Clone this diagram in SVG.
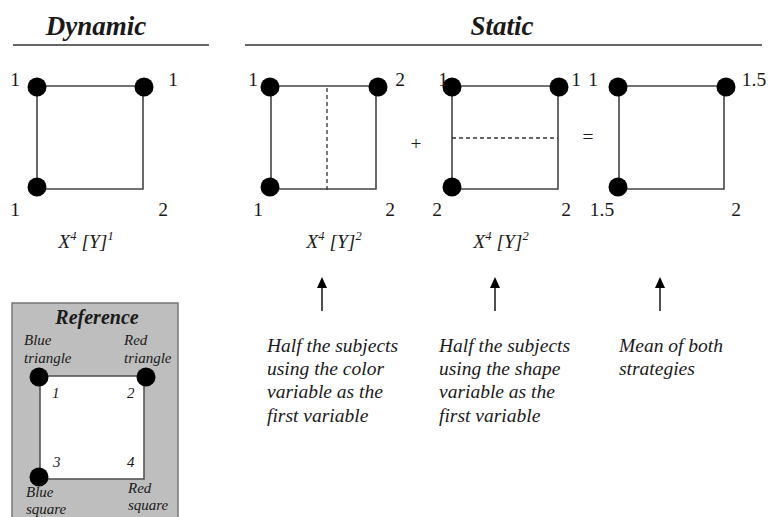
<svg xmlns="http://www.w3.org/2000/svg" width="768" height="517" viewBox="0 0 768 517">
<style>
text{font-family:"Liberation Serif","DejaVu Serif","Noto Serif",serif;fill:#1a1a1a}
.title{font-size:27px;font-weight:bold;font-style:italic}
.num{font-size:19.5px}
.it{font-style:italic;font-size:19.5px}
.sup{font-size:12.5px}
.ref{font-style:italic;font-size:15px}
.sq{fill:none;stroke:#444;stroke-width:1.6}
.dash{stroke:#333;stroke-width:1.3;stroke-dasharray:4 3;fill:none}
.dot{fill:#000}
.rule{stroke:#333;stroke-width:1.5}
.arrow{stroke:#222;stroke-width:1.6;fill:none}
</style>
<defs>
<marker id="ah" viewBox="0 0 11 10" refX="9" refY="5" markerWidth="11" markerHeight="10" markerUnits="userSpaceOnUse" orient="auto">
<path d="M0,0 L11,5 L0,10 Z" fill="#000"/>
</marker>
</defs>
<rect width="768" height="517" fill="#fff"/>

<g id="headers">
<text class="title" x="96" y="35" text-anchor="middle">Dynamic</text>
<line class="rule" x1="13" y1="45" x2="209" y2="45"/>
<text class="title" x="502" y="35" text-anchor="middle">Static</text>
<line class="rule" x1="245" y1="45" x2="762" y2="45"/>
</g>

<g id="dynamic">
<path class="sq" d="M37,86 H143 V189 H37 Z"/>
<circle class="dot" cx="37" cy="87" r="9.5"/>
<circle class="dot" cx="144" cy="87" r="9.5"/>
<circle class="dot" cx="37" cy="187" r="9.5"/>
<text class="num" x="15" y="86" text-anchor="middle">1</text>
<text class="num" x="173" y="86" text-anchor="middle">1</text>
<text class="num" x="15" y="216" text-anchor="middle">1</text>
<text class="num" x="163" y="216" text-anchor="middle">2</text>
<text class="it" x="86" y="248" text-anchor="middle">X<tspan class="sup" dy="-8">4</tspan><tspan dy="8"> [Y]</tspan><tspan class="sup" dy="-8">1</tspan></text>
</g>

<g id="static-color">
<path class="sq" d="M271,86 H376 V189 H271 Z"/>
<line class="dash" x1="327" y1="88" x2="327" y2="193"/>
<circle class="dot" cx="270" cy="87" r="9.5"/>
<circle class="dot" cx="378" cy="87" r="9.5"/>
<circle class="dot" cx="270" cy="187" r="9.5"/>
<text class="num" x="253" y="86" text-anchor="middle">1</text>
<text class="num" x="400" y="86" text-anchor="middle">2</text>
<text class="num" x="258" y="216" text-anchor="middle">1</text>
<text class="num" x="390" y="216" text-anchor="middle">2</text>
<text class="it" x="334" y="248" text-anchor="middle">X<tspan class="sup" dy="-8">4</tspan><tspan dy="8"> [Y]</tspan><tspan class="sup" dy="-8">2</tspan></text>
</g>

<text class="num" x="416" y="150" text-anchor="middle">+</text>

<g id="static-shape">
<path class="sq" d="M452,86 H558 V189 H452 Z"/>
<line class="dash" x1="452" y1="138" x2="558" y2="138"/>
<circle class="dot" cx="452" cy="87" r="9.5"/>
<circle class="dot" cx="559" cy="87" r="9.5"/>
<circle class="dot" cx="452" cy="187" r="9.5"/>
<text class="num" x="443" y="86" text-anchor="middle">1</text>
<text class="num" x="576" y="86" text-anchor="middle">1</text>
<text class="num" x="437" y="216" text-anchor="middle">2</text>
<text class="num" x="566" y="216" text-anchor="middle">2</text>
<text class="it" x="501" y="248" text-anchor="middle">X<tspan class="sup" dy="-8">4</tspan><tspan dy="8"> [Y]</tspan><tspan class="sup" dy="-8">2</tspan></text>
</g>

<text class="num" x="588" y="143" text-anchor="middle">=</text>

<g id="static-mean">
<path class="sq" d="M619,86 H724 V189 H619 Z"/>
<circle class="dot" cx="618" cy="87" r="9.5"/>
<circle class="dot" cx="726" cy="87" r="9.5"/>
<circle class="dot" cx="618" cy="187" r="9.5"/>
<text class="num" x="593" y="86" text-anchor="middle">1</text>
<text class="num" x="754" y="86" text-anchor="middle">1.5</text>
<text class="num" x="602" y="216" text-anchor="middle">1.5</text>
<text class="num" x="736" y="216" text-anchor="middle">2</text>
</g>

<g id="connectors">
<line class="arrow" x1="322" y1="311" x2="322" y2="279" marker-end="url(#ah)"/>
<line class="arrow" x1="495" y1="311" x2="495" y2="279" marker-end="url(#ah)"/>
<line class="arrow" x1="660" y1="311" x2="660" y2="279" marker-end="url(#ah)"/>
</g>

<g id="note-color">
<text class="it" x="267" y="352">Half the subjects</text>
<text class="it" x="267" y="375">using the color</text>
<text class="it" x="267" y="398">variable as the</text>
<text class="it" x="267" y="422">first variable</text>
</g>
<g id="note-shape">
<text class="it" x="439" y="352">Half the subjects</text>
<text class="it" x="439" y="375">using the shape</text>
<text class="it" x="439" y="398">variable as the</text>
<text class="it" x="439" y="422">first variable</text>
</g>
<g id="note-mean">
<text class="it" x="619" y="352">Mean of both</text>
<text class="it" x="619" y="375">strategies</text>
</g>

<g id="reference">
<rect x="12" y="303" width="166" height="220" fill="#bebebe" stroke="#777" stroke-width="1.5"/>
<rect x="40" y="376" width="104" height="103" fill="#fff" stroke="#555" stroke-width="1.6"/>
<circle class="dot" cx="39" cy="377" r="9.5"/>
<circle class="dot" cx="146" cy="377" r="9.5"/>
<circle class="dot" cx="39" cy="477" r="9.5"/>
<text x="97" y="324" text-anchor="middle" style="font-size:20px;font-weight:bold;font-style:italic">Reference</text>
<text class="ref" x="24" y="345">Blue</text>
<text class="ref" x="24" y="363">triangle</text>
<text class="ref" x="124" y="345">Red</text>
<text class="ref" x="124" y="363">triangle</text>
<text class="ref" x="52" y="398">1</text>
<text class="ref" x="127" y="398">2</text>
<text class="ref" x="53" y="467">3</text>
<text class="ref" x="127" y="467">4</text>
<text class="ref" x="26" y="497">Blue</text>
<text class="ref" x="26" y="514">square</text>
<text class="ref" x="128" y="493">Red</text>
<text class="ref" x="128" y="510">square</text>
</g>
</svg>
